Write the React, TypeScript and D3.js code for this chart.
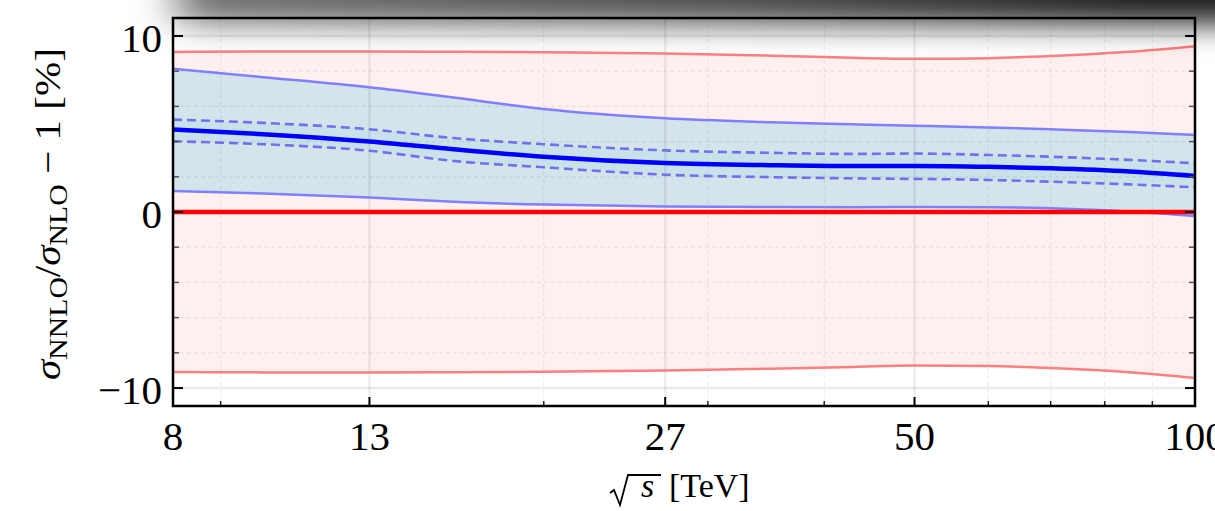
import React from "react";
import * as d3 from "d3";

// Centre-of-mass energies (TeV) at which the ratios are tabulated
const energies = [8, 10, 13, 16, 20, 27, 35, 43, 50, 60, 70, 85, 100];

// NLO reference: central value and scale band, in percent
const nloCentral = [0, 0, 0, 0, 0, 0, 0, 0, 0, 0, 0, 0, 0];
const nloUpper = [9.09, 9.12, 9.12, 9.1, 9.07, 9.0, 8.88, 8.76, 8.7, 8.74, 8.86, 9.1, 9.42];
const nloLower = [-9.09, -9.11, -9.12, -9.1, -9.07, -9.0, -8.9, -8.8, -8.72, -8.75, -8.86, -9.1, -9.43];

// NNLO / NLO - 1: central value, scale band and PDF band, in percent
const nnloCentral = [4.68, 4.42, 4.0, 3.56, 3.14, 2.78, 2.66, 2.61, 2.62, 2.57, 2.48, 2.3, 2.05];
const nnloUpper = [8.14, 7.66, 7.08, 6.5, 5.85, 5.32, 5.1, 4.98, 4.9, 4.8, 4.7, 4.55, 4.37];
const nnloLower = [1.19, 1.05, 0.82, 0.58, 0.42, 0.31, 0.28, 0.27, 0.28, 0.27, 0.21, 0.03, -0.23];
const pdfUpper = [5.25, 5.06, 4.7, 4.2, 3.85, 3.5, 3.36, 3.3, 3.32, 3.24, 3.14, 2.96, 2.77];
const pdfLower = [4.02, 3.85, 3.48, 2.9, 2.54, 2.12, 1.98, 1.91, 1.88, 1.82, 1.72, 1.57, 1.4];

// Axis ticks
const xMajorTicks = [8, 13, 27, 50, 100];
const xMinorTicks = [9, 20, 30, 40, 60, 70, 80, 90];
const yMajorTicks = [-10, 0, 10];
const yMinorTicks = [-8, -6, -4, -2, 2, 4, 6, 8];

const W = 1215;
const H = 511;
const left = 173;
const right = 1195;
const top = 18;
const bottom = 406;

const FONT = "'Liberation Serif', 'Times New Roman', serif";

export default function App() {
  const x = d3.scaleLog().domain([8, 100]).range([left, right]);
  const y = d3.scaleLinear().domain([-11.02, 11.02]).range([bottom, top]);

  const idx = energies.map((_, i) => i);

  const band = (lo: number[], hi: number[]) =>
    d3
      .area<number>()
      .x((i) => x(energies[i]))
      .y0((i) => y(lo[i]))
      .y1((i) => y(hi[i]))
      .curve(d3.curveMonotoneX)(idx) as string;

  const line = (vals: number[]) =>
    d3
      .line<number>()
      .x((i) => x(energies[i]))
      .y((i) => y(vals[i]))
      .curve(d3.curveMonotoneX)(idx) as string;

  const fmt = (v: number) => (v < 0 ? "\u2212" + Math.abs(v) : String(v));

  return (
    <svg
      width={W}
      height={H}
      style={{ position: "absolute", left: 0, top: 0, display: "block", background: "#fff" }}
    >
      <defs>
        <clipPath id="plotArea">
          <rect x={left} y={top} width={right - left} height={bottom - top} />
        </clipPath>
        <linearGradient id="shade" x1="0" x2="1" y1="0" y2="0">
          <stop offset="0" stopColor="#000" stopOpacity={0.55} />
          <stop offset="0.5" stopColor="#000" stopOpacity={0.7} />
          <stop offset="0.85" stopColor="#000" stopOpacity={0.88} />
          <stop offset="1" stopColor="#000" stopOpacity={0.88} />
        </linearGradient>
        <filter id="soft" filterUnits="userSpaceOnUse" x={-200} y={-300} width={1700} height={520}>
          <feGaussianBlur stdDeviation="22 15" />
        </filter>
      </defs>

      <g clipPath="url(#plotArea)">
        {/* NLO scale band */}
        <path d={band(nloLower, nloUpper)} fill="#fff0f0" />
        {/* NNLO scale band */}
        <path d={band(nnloLower, nnloUpper)} fill="#d4e4ea" />
        {/* NNLO PDF band */}
        <path d={band(pdfLower, pdfUpper)} fill="#c9e1e8" />

        {/* grid */}
        {xMinorTicks.map((t) => (
          <line key={"gxm" + t} x1={x(t)} x2={x(t)} y1={top} y2={bottom}
            stroke="#000" strokeOpacity={0.07} strokeWidth={1.2} strokeDasharray="4,3" />
        ))}
        {yMinorTicks.map((t) => (
          <line key={"gym" + t} x1={left} x2={right} y1={y(t)} y2={y(t)}
            stroke="#000" strokeOpacity={0.07} strokeWidth={1.2} strokeDasharray="4,3" />
        ))}
        {xMajorTicks.map((t) => (
          <line key={"gx" + t} x1={x(t)} x2={x(t)} y1={top} y2={bottom}
            stroke="#000" strokeOpacity={0.07} strokeWidth={2.5} />
        ))}
        {yMajorTicks.map((t) => (
          <line key={"gy" + t} x1={left} x2={right} y1={y(t)} y2={y(t)}
            stroke="#000" strokeOpacity={0.08} strokeWidth={2.5} />
        ))}

        {/* band edges */}
        <path d={line(nloUpper)} fill="none" stroke="#ff7f7f" strokeWidth={2.5} />
        <path d={line(nloLower)} fill="none" stroke="#ff7f7f" strokeWidth={2.5} />
        <path d={line(nnloUpper)} fill="none" stroke="#7f7fff" strokeWidth={2.5} />
        <path d={line(nnloLower)} fill="none" stroke="#7f7fff" strokeWidth={2.5} />
        <path d={line(pdfUpper)} fill="none" stroke="#7070f0" strokeWidth={2.6} strokeDasharray="9,5" />
        <path d={line(pdfLower)} fill="none" stroke="#7070f0" strokeWidth={2.6} strokeDasharray="9,5" />

        {/* central values */}
        <path d={line(nloCentral)} fill="none" stroke="#ff0000" strokeWidth={4.5} />
        <path d={line(nnloCentral)} fill="none" stroke="#0000ff" strokeWidth={4.5} />
      </g>

      {/* ticks */}
      {xMajorTicks.map((t) => (
        <line key={"tx" + t} x1={x(t)} x2={x(t)} y1={bottom} y2={bottom - 9} stroke="#000" strokeWidth={2} />
      ))}
      {xMinorTicks.map((t) => (
        <line key={"txm" + t} x1={x(t)} x2={x(t)} y1={bottom} y2={bottom - 5} stroke="#222" strokeWidth={1.5} />
      ))}
      {yMajorTicks.map((t) => (
        <g key={"ty" + t}>
          <line x1={left} x2={left + 10} y1={y(t)} y2={y(t)} stroke="#000" strokeWidth={2} />
          <line x1={right} x2={right - 10} y1={y(t)} y2={y(t)} stroke="#000" strokeWidth={2} />
        </g>
      ))}
      {yMinorTicks.map((t) => (
        <g key={"tym" + t}>
          <line x1={left} x2={left + 6} y1={y(t)} y2={y(t)} stroke="#555" strokeWidth={1.5} />
          <line x1={right} x2={right - 6} y1={y(t)} y2={y(t)} stroke="#555" strokeWidth={1.5} />
        </g>
      ))}

      {/* frame */}
      <rect x={left} y={top} width={right - left} height={bottom - top}
        fill="none" stroke="#000" strokeWidth={2.5} />

      {/* tick labels */}
      {xMajorTicks.map((t) => (
        <text key={"lx" + t} x={x(t)} y={450} textAnchor="middle"
          fontFamily={FONT} fontSize={41} fill="#000">{t}</text>
      ))}
      {yMajorTicks.map((t) => (
        <text key={"ly" + t} x={162} y={y(t) + 16} textAnchor="end"
          fontFamily={FONT} fontSize={41} fill="#000">{fmt(t)}</text>
      ))}

      {/* x axis label: sqrt(s) [TeV] */}
      <path d="M610,493 L614,490 L620,505 L628,475 L661,475" fill="none" stroke="#000" strokeWidth={1.8} strokeLinejoin="miter" />
      <text x={641} y={497} fontFamily={FONT} fontSize={34} fontStyle="italic" fill="#000">s</text>
      <text x={669} y={497} fontFamily={FONT} fontSize={34} fill="#000">[TeV]</text>

      {/* y axis label */}
      <text transform="translate(60,214) rotate(-90)" textAnchor="middle"
        fontFamily={FONT} fontSize={36} fill="#000" textLength={332} lengthAdjust="spacingAndGlyphs">
        <tspan fontStyle="italic">σ</tspan>
        <tspan fontSize={26} dy={7}>NNLO</tspan>
        <tspan dy={-7}>/</tspan>
        <tspan fontStyle="italic">σ</tspan>
        <tspan fontSize={26} dy={7}>NLO</tspan>
        <tspan dy={-7}>{" \u2212 1 [%]"}</tspan>
      </text>

      {/* dark haze along the top edge */}
      <rect x={178} y={-70} width={1130} height={94} fill="url(#shade)" filter="url(#soft)" />
    </svg>
  );
}
